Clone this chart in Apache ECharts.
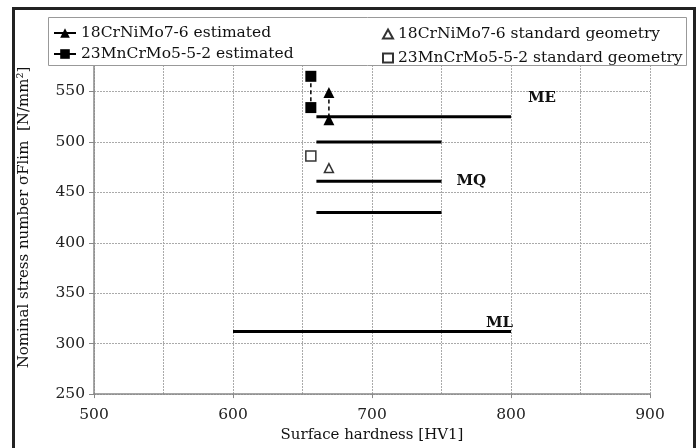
<!DOCTYPE html>
<html>
<head>
<meta charset="utf-8">
<script src="https://cdn.jsdelivr.net/npm/echarts@6/dist/echarts.min.js"></script>
<style>
html, body { margin: 0; padding: 0; background: #fff; }
#chart { width: 700px; height: 448px; }
</style>
</head>
<body>
<div id="chart"></div>
<script>
// axis ranges (600 sits behind the legend box, like in the original)
var xTicks = [500, 600, 700, 800, 900];
var yTicks = [250, 300, 350, 400, 450, 500, 550, 600];

// measured points [hardness, stress]
var crNiEstimated = [[669, 549], [669, 522]];
var mnCrEstimated = [[656, 565], [656, 534]];
var crNiStandard = [[669, 474]];
var mnCrStandard = [[656, 486]];

// quality grade lines
var levelNames = ['ME', '', 'MQ', '', 'ML'];
var levelValues = [525, 500, 461, 430, 312];
var levelFrom = [660, 660, 660, 660, 600];
var levelTo = [800, 750, 750, 750, 800];

var serif = 'DejaVu Serif';
var labelOffsets = { ME: [12, -19], MQ: [10, 0], ML: [-30, -8] };

var chart = echarts.init(document.getElementById('chart'));

var series = [];
levelValues.forEach(function(v, i) {
    var name = levelNames[i];
    series.push({
        type: 'line',
        symbol: 'none',
        silent: true,
        z: 3,
        lineStyle: { color: '#000', width: 3 },
        endLabel: {
            show: !!name,
            formatter: name,
            distance: 5,
            offset: labelOffsets[name] || [0, 0],
            fontFamily: serif,
            fontWeight: 'bold',
            fontSize: 15,
            color: '#111'
        },
        data: [[levelFrom[i], v], [levelTo[i], v]]
    });
});

series.push({
    name: '18CrNiMo7-6 estimated',
    type: 'line',
    symbol: 'triangle',
    symbolSize: 11,
    z: 4,
    itemStyle: { color: '#000' },
    lineStyle: { color: '#000', width: 1.5, type: [4, 3] },
    data: crNiEstimated
});
series.push({
    name: '23MnCrMo5-5-2 estimated',
    type: 'line',
    symbol: 'rect',
    symbolSize: 11,
    z: 4,
    itemStyle: { color: '#000' },
    lineStyle: { color: '#000', width: 1.5, type: [4, 3] },
    data: mnCrEstimated
});
series.push({
    name: '18CrNiMo7-6 standard geometry',
    type: 'scatter',
    symbol: 'triangle',
    symbolSize: 9,
    z: 4,
    itemStyle: { color: '#fff', borderColor: '#000', borderWidth: 1.5 },
    data: crNiStandard
});
series.push({
    name: '23MnCrMo5-5-2 standard geometry',
    type: 'scatter',
    symbol: 'rect',
    symbolSize: 10,
    z: 4,
    itemStyle: { color: '#fff', borderColor: '#000', borderWidth: 1.5 },
    data: mnCrStandard
});

var legendText = { fontFamily: serif, fontSize: 15.5, color: '#111' };

var option = {
    backgroundColor: '#fff',
    animation: false,
    grid: { left: 94, right: 50, top: 41, bottom: 50 },
    graphic: [
        {
            type: 'rect',
            z: 3,
            shape: { x: 48.5, y: 17.5, width: 638, height: 48 },
            style: { fill: '#fff', stroke: '#999', lineWidth: 1 }
        },
        {
            type: 'rect',
            z: 100,
            shape: { x: 13.5, y: 8.5, width: 681, height: 470 },
            style: { fill: null, stroke: '#222', lineWidth: 3 }
        }
    ],
    legend: [
        {
            z: 10,
            orient: 'vertical',
            left: 48,
            top: 20,
            itemWidth: 22,
            itemHeight: 12,
            itemGap: 5,
            textStyle: legendText,
            lineStyle: { type: 'solid', width: 2 },
            data: ['18CrNiMo7-6 estimated', '23MnCrMo5-5-2 estimated']
        },
        {
            z: 10,
            orient: 'vertical',
            left: 377,
            top: 21,
            itemWidth: 10,
            itemHeight: 9,
            itemGap: 8,
            textStyle: legendText,
            data: ['18CrNiMo7-6 standard geometry', '23MnCrMo5-5-2 standard geometry']
        }
    ],
    xAxis: {
        type: 'value',
        min: xTicks[0],
        max: xTicks[xTicks.length - 1],
        interval: 100,
        name: 'Surface hardness [HV1]',
        nameLocation: 'middle',
        nameGap: 32,
        nameTextStyle: { fontFamily: serif, fontSize: 15, color: '#111' },
        axisLine: { lineStyle: { color: '#888', width: 1.5 } },
        axisTick: { show: true, length: 4, lineStyle: { color: '#888' } },
        axisLabel: { margin: 13, fontFamily: serif, fontSize: 15.5, color: '#222' },
        splitLine: { show: true, lineStyle: { color: '#aaa', type: [2, 1], width: 1 } },
        minorTick: { show: false, splitNumber: 2 },
        minorSplitLine: { show: true, lineStyle: { color: '#aaa', type: [2, 1], width: 1 } }
    },
    yAxis: {
        type: 'value',
        min: yTicks[0],
        max: yTicks[yTicks.length - 1],
        interval: 50,
        name: 'Nominal stress number σFlim  [N/mm²]',
        nameLocation: 'middle',
        nameGap: 62,
        nameTextStyle: { fontFamily: serif, fontSize: 15, color: '#111' },
        axisLine: { show: true, lineStyle: { color: '#888', width: 1.5 } },
        axisTick: { show: true, length: 5, lineStyle: { color: '#888' } },
        axisLabel: {
            margin: 9,
            fontFamily: serif,
            fontSize: 15.5,
            color: '#222',
            formatter: function(v) { return v === 600 ? '' : v; }
        },
        splitLine: { show: true, lineStyle: { color: '#aaa', type: [2, 1], width: 1 } }
    },
    series: series
};

chart.setOption(option);
</script>
</body>
</html>
